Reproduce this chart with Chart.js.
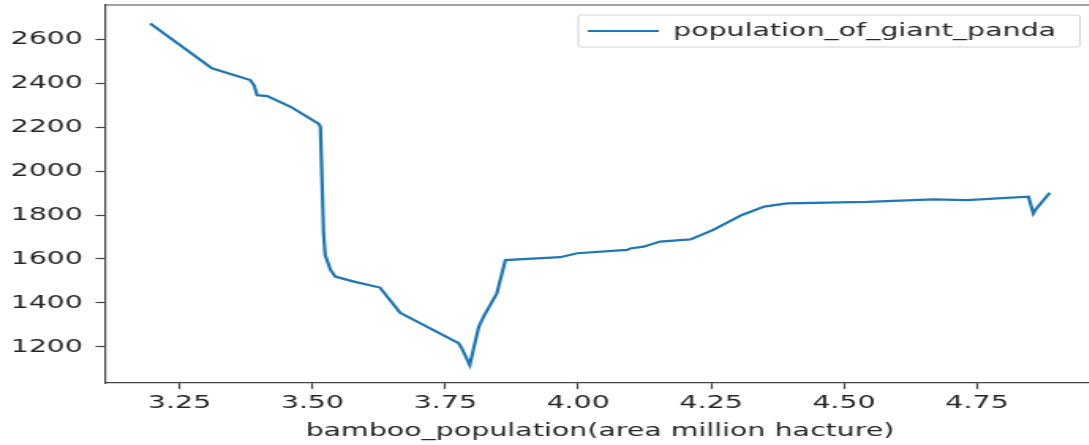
<!DOCTYPE html>
<html>
<head>
<meta charset="utf-8">
<script src="https://cdn.jsdelivr.net/npm/chart.js@4/dist/chart.umd.min.js"></script>
<style>
	html, body { margin: 0; padding: 0; background: #fff; overflow: hidden; }
	/* the reference is a stretched figure, so stretch the canvas sideways */
	#wrap { width: 700px; height: 445px; transform: scaleX(1.58); transform-origin: 0 0; }
</style>
</head>
<body>
<div id="wrap"><canvas id="graph_panda"></canvas></div>
<script>
// values
var bamboo_population = [3.195, 3.311, 3.383, 3.390, 3.396, 3.415, 3.459, 3.512, 3.515, 3.521, 3.524, 3.534, 3.543, 3.578, 3.627, 3.665, 3.775, 3.781, 3.796, 3.813, 3.822, 3.847, 3.863, 3.966, 3.998, 4.092, 4.098, 4.123, 4.154, 4.211, 4.254, 4.308, 4.350, 4.392, 4.543, 4.668, 4.731, 4.847, 4.856, 4.862, 4.887]
var population_of_giant_panda = [2671, 2467, 2414, 2391, 2345, 2341, 2292, 2214, 2201, 1717, 1618, 1550, 1520, 1497, 1470, 1355, 1217, 1194, 1118, 1292, 1338, 1444, 1595, 1608, 1626, 1641, 1648, 1656, 1679, 1689, 1732, 1800, 1838, 1853, 1860, 1871, 1868, 1883, 1807, 1830, 1901]
var xTicks = [3.25, 3.50, 3.75, 4.00, 4.25, 4.50, 4.75]
var yTicks = [1200, 1400, 1600, 1800, 2000, 2200, 2400, 2600]
var seriesName = 'population_of_giant_panda'
var xTitle = 'bamboo_population(area million hacture)'

function jhwPandaPoints() {
	var pts = []
	for (i=0; i<bamboo_population.length; i++) {
		pts.push({x: bamboo_population[i], y: population_of_giant_panda[i]})
	}
	return pts
}

// top/right spines plus the legend frame, matplotlib style
var jhwFramePlugin = {
	id: 'jhwFrame',
	afterLayout: function(chart) {
		var lg = chart.legend
		lg.left = 362; lg.top = 12
		lg.right = 684; lg.bottom = 47
	},
	beforeDraw: function(chart) {
		var ctx = chart.ctx
		ctx.save()
		ctx.fillStyle = 'rgba(255,255,255,0.8)'
		ctx.strokeStyle = '#d4d4d4'
		ctx.lineWidth = 1
		ctx.beginPath()
		ctx.roundRect(366, 15, 317.5, 32, 2)
		ctx.fill()
		ctx.stroke()
		ctx.restore()
	},
	afterDraw: function(chart) {
		var a = chart.chartArea, ctx = chart.ctx
		ctx.save()
		ctx.strokeStyle = '#444'
		ctx.lineWidth = 1.2
		ctx.beginPath()
		ctx.moveTo(a.left, a.top)
		ctx.lineTo(a.right, a.top)
		ctx.lineTo(a.right, a.bottom)
		ctx.stroke()
		ctx.restore()
	}
}

function jhwSetupPandaGraph() {
	Chart.defaults.font.family = '"DejaVu Sans", sans-serif'
	Chart.defaults.font.size = 18
	Chart.defaults.color = '#262626'

	window.jhwPandaGraphConfig = {
		type: 'line',
		data: {
			datasets: [{
				label: seriesName,
				data: jhwPandaPoints(),
				borderColor: '#1f77b4',
				backgroundColor: '#1f77b4',
				borderWidth: 2.2,
				pointRadius: 0,
				tension: 0,
				fill: false
			}]
		},
		options: {
			responsive: true,
			maintainAspectRatio: false,
			animation: false,
			layout: { padding: { left: 0, top: 5, right: 7, bottom: 0 } },
			plugins: {
				tooltip: { enabled: false },
				legend: {
					position: 'chartArea',
					align: 'start',
					labels: {
						boxWidth: 45,
						boxHeight: 2,
						padding: 10,
						color: '#262626',
						generateLabels: function(chart) {
							var items = Chart.defaults.plugins.legend.labels.generateLabels(chart)
							items.forEach(function(it) { it.lineWidth = 0 })
							return items
						}
					}
				}
			},
			scales: {
				x: {
					type: 'linear',
					min: 3.110,
					max: 4.972,
					afterFit: function(s) {
						s.height = 62
						s.paddingLeft = 0; s.paddingRight = 0
					},
					afterBuildTicks: function(s) {
						s.ticks = xTicks.map(function(v) { return {value: v} })
					},
					ticks: {
						padding: 4,
						maxRotation: 0,
						callback: function(v) { return v.toFixed(2) }
					},
					grid: { display: true, drawOnChartArea: false, drawTicks: true, tickLength: 6, tickColor: '#444', tickWidth: 1.2 },
					border: { display: true, color: '#444', width: 1.2 },
					title: { display: true, text: xTitle, padding: { top: 0, bottom: 3 } }
				},
				y: {
					type: 'linear',
					min: 1036,
					max: 2755,
					afterFit: function(s) {
						s.width = 66.5
						s.paddingTop = 0; s.paddingBottom = 0
					},
					afterBuildTicks: function(s) {
						s.ticks = yTicks.map(function(v) { return {value: v} })
					},
					ticks: {
						padding: 8,
						callback: function(v) { return String(v) }
					},
					grid: { display: true, drawOnChartArea: false, drawTicks: true, tickLength: 6, tickColor: '#444', tickWidth: 1.2 },
					border: { display: true, color: '#444', width: 1.2 }
				}
			}
		},
		plugins: [jhwFramePlugin]
	}

	window.jhwPandaGraph = new Chart(
		document.getElementById('graph_panda'),
		window.jhwPandaGraphConfig
	)
}

jhwSetupPandaGraph()
</script>
</body>
</html>
